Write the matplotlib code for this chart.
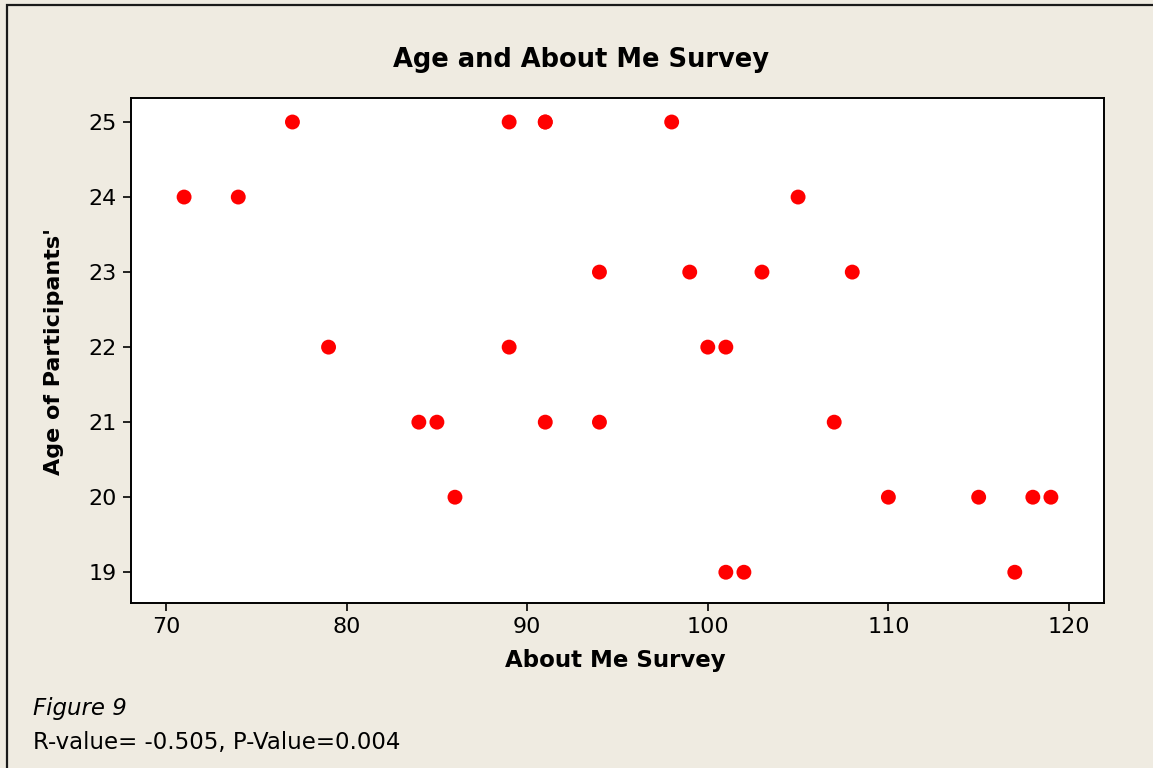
import matplotlib.pyplot as plt
from matplotlib.patches import Rectangle

# datos
about_me = [71, 74, 77, 79, 84, 85, 86, 89, 89, 91, 91, 91, 94, 94, 98, 99,
            100, 101, 101, 102, 103, 105, 107, 108, 110, 115, 117, 118, 119]
age = [24, 24, 25, 22, 21, 21, 20, 25, 22, 25, 25, 21, 23, 21, 25, 23,
       22, 22, 19, 19, 23, 24, 21, 23, 20, 20, 19, 20, 20]
xticks = [70, 80, 90, 100, 110, 120]
yticks = [19, 20, 21, 22, 23, 24, 25]

bg = '#efebe1'
W, H = 1153, 768
fig = plt.figure(figsize=(W/100, H/100), dpi=100, facecolor=bg)

# marco exterior
fig.patches.append(Rectangle((7/W, -0.05), 1.1, 1 - 5/H + 0.05, transform=fig.transFigure,
                             fill=False, edgecolor='#1a1a1a', linewidth=1.6))

ax = fig.add_axes([131/W, 1 - 603/H, (1104-131)/W, (603-98)/H])
ax.set_facecolor('white')
ax.scatter(about_me, age, s=115, color='#ff0000', edgecolors='none', zorder=3)

ax.set_xlim(68.06, 121.94)
ax.set_ylim(18.59, 25.32)
ax.set_xticks(xticks)
ax.set_yticks(yticks)
ax.tick_params(direction='out', length=6, width=1.2, labelsize=16, pad=4)
for s in ax.spines.values():
    s.set_linewidth(1.4)

fig.text(615/W, 1 - 661/H, 'About Me Survey', fontsize=16.5, fontweight='bold',
         ha='center', va='center')
fig.text(54/W, 1 - 352/H, "Age of Participants'", rotation=90, fontsize=16,
         fontweight='bold', ha='center', va='center')
fig.text(581/W, 1 - 60/H, 'Age and About Me Survey', fontsize=18.5, fontweight='bold',
         ha='center', va='center')

fig.text(33/W, 1 - 708/H, 'Figure 9', fontsize=16.5, style='italic', ha='left', va='center')
fig.text(33/W, 1 - 742/H, 'R-value= -0.505, P-Value=0.004', fontsize=16.5, ha='left', va='center')

fig.savefig('out.png', dpi=100, facecolor=bg)
